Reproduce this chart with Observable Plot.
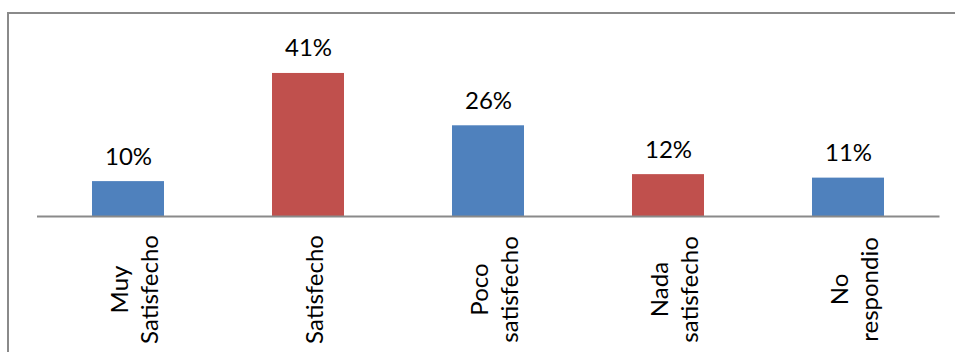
<!DOCTYPE html>
<html>
<head>
<meta charset="utf-8">
<script src="https://cdn.jsdelivr.net/npm/d3@7"></script>
<script src="https://cdn.jsdelivr.net/npm/@observablehq/plot@0.6"></script>
<style>
  html, body { margin: 0; padding: 0; background: #fff; }
  #wrap { position: relative; width: 955px; height: 352px; overflow: hidden; }
  #frame { position: absolute; left: 7px; top: 12px; width: 1000px; height: 400px;
           border-left: 2px solid #8a8a8a; border-top: 2px solid #8a8a8a; box-sizing: border-box; }
  #chart { position: absolute; left: 0; top: 0; }
</style>
</head>
<body>
<div id="wrap"><div id="frame"></div><div id="chart"></div></div>
<script>
const categories = ["Muy\nSatisfecho", "Satisfecho", "Poco\nsatisfecho", "Nada\nsatisfecho", "No\nrespondio"];
const values = [0.10, 0.41, 0.26, 0.12, 0.11];
const valueLabels = ["10%", "41%", "26%", "12%", "11%"];
const barColors = ["#4F81BD", "#C0504D", "#4F81BD", "#C0504D", "#4F81BD"];

const data = categories.map((c, i) => ({category: c, value: values[i], label: valueLabels[i], color: barColors[i]}));

const chart = Plot.plot({
  width: 955,
  height: 352,
  marginLeft: 37,
  marginRight: 15.5,
  marginTop: 59,
  marginBottom: 136,
  style: {fontFamily: "Lato, sans-serif", background: "transparent", overflow: "visible"},
  x: {domain: categories, paddingInner: 0.6, paddingOuter: 0.3, axis: null},
  y: {domain: [0, 0.45], axis: null},
  marks: [
    Plot.barY(data, {x: "category", y: "value", fill: d => d.color}),
    Plot.ruleY([0], {stroke: "#8a8a8a", strokeWidth: 2}),
    Plot.text(data, {x: "category", y: "value", text: "label", lineAnchor: "bottom", dy: -17,
                     fontSize: 24, fill: "#000"}),
    Plot.text(data, {x: "category", text: "category", frameAnchor: "bottom", dy: 73, dx: 5,
                     rotate: -90, textAnchor: "middle", lineAnchor: "middle", lineHeight: 1.22,
                     fontSize: 24, fill: "#000"})
  ]
});
document.getElementById("chart").appendChild(chart);
</script>
</body>
</html>
